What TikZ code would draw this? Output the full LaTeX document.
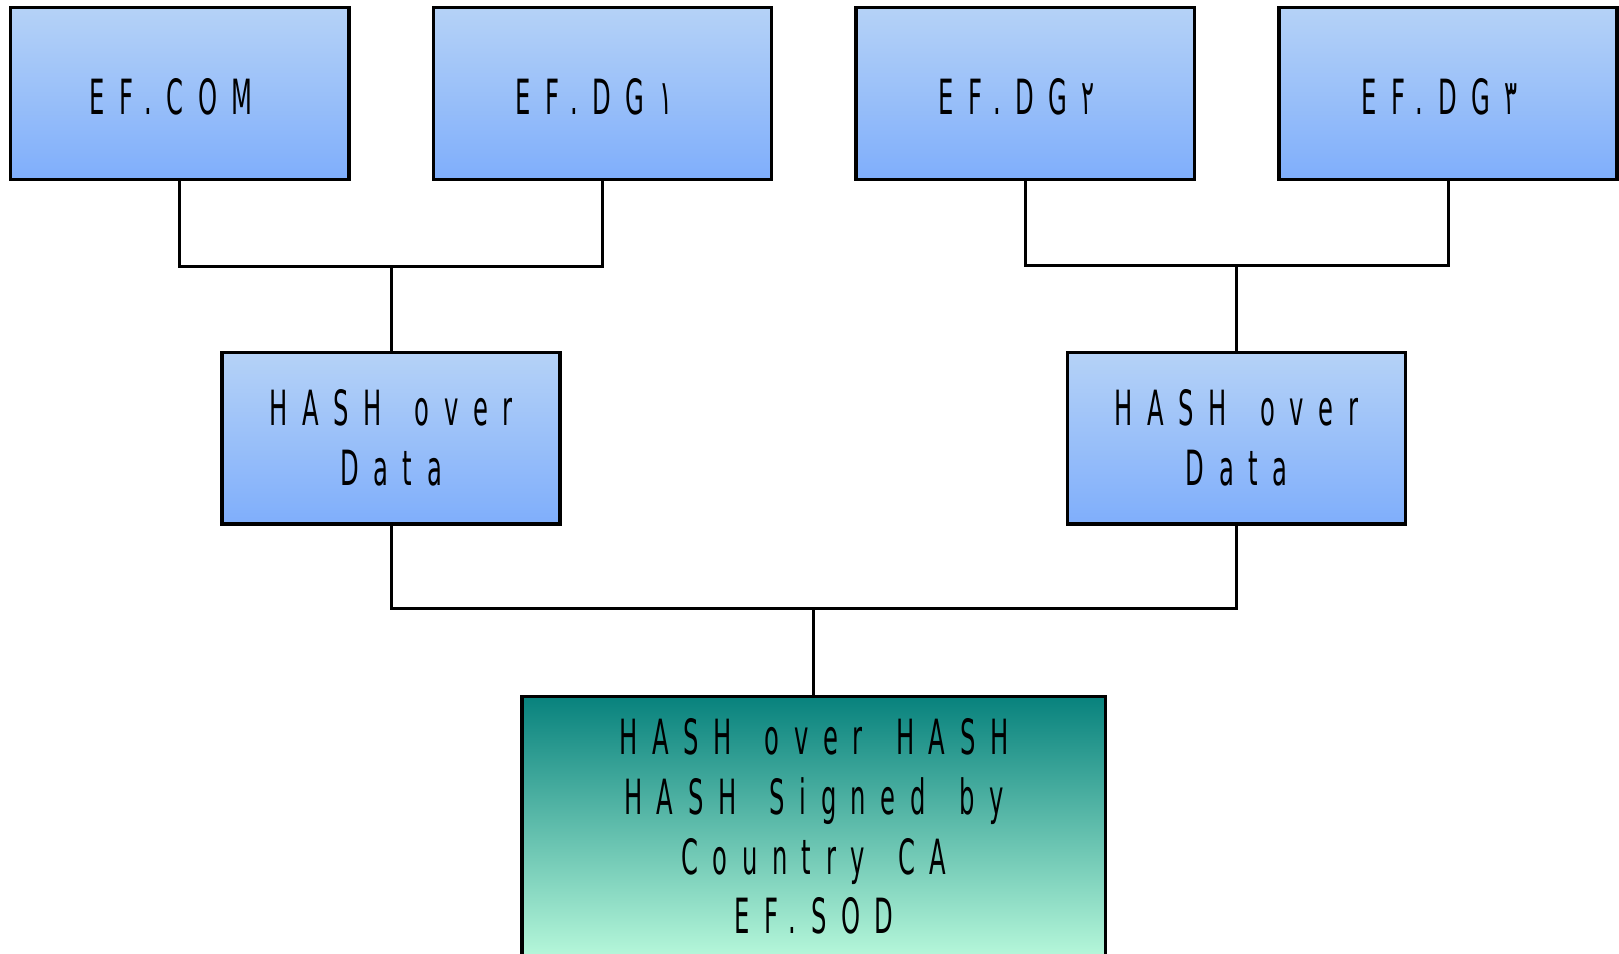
\documentclass[tikz,border=0pt]{standalone}
\usepackage{fontspec}
\setmainfont{DejaVu Sans}[FakeStretch=0.5, LetterSpace=30, WordSpace=1.5]
\usepackage{tikz}
\usetikzlibrary{positioning, calc}

\definecolor{blueTop}{RGB}{181,210,247}
\definecolor{blueBot}{RGB}{127,174,251}
\definecolor{tealTop}{RGB}{8,130,125}
\definecolor{tealBot}{RGB}{182,247,218}

\begin{document}
\begin{tikzpicture}[x=0.01cm, y=-0.01cm,
    box/.style={draw, line width=1pt, top color=blueTop, bottom color=blueBot,
        minimum width=3.38cm, minimum height=1.715cm, inner sep=0pt,
        align=center, font=\fontsize{13.8}{17}\selectfont},
    dgbox/.style={box, text height=12pt, text depth=0pt,
        execute at end node=\hspace*{0.17cm}},
    sodbox/.style={box, top color=tealTop, bottom color=tealBot,
        minimum width=5.83cm, minimum height=2.6cm},
    link/.style={line width=0.85pt}]
    \useasboundingbox (0,0) rectangle (1619,953);

    % data groups
    \node[dgbox] (com) at (179.7,93.5) {EF.COM};
    \node[dgbox, right=0.81cm of com] (dg1) {EF.DG١};
    \node[dgbox, right=0.81cm of dg1] (dg2) {EF.DG٢};
    \node[dgbox, right=0.81cm of dg2] (dg3) {EF.DG٣};

    % junctions
    \coordinate (jA) at ($(com.south)!0.5!(dg1.south) + (0,85.5)$);
    \coordinate (jB) at ($(dg2.south)!0.5!(dg3.south) + (0,84)$);

    % hashes
    \node[box, below=0.84cm of jA] (hashA) {HASH over\\Data};
    \node[box, below=0.84cm of jB |- jA] (hashB) {HASH over\\Data};

    \coordinate (jC) at ($(hashA.south)!0.5!(hashB.south) + (0,83)$);
    \node[sodbox, below=0.86cm of jC] (sod) {HASH over HASH\\HASH Signed by\\Country CA\\EF.SOD};

    \draw[link] (com.south) |- (jA -| dg1.south) -- (dg1.south);
    \draw[link] (jA) -- (hashA.north);
    \draw[link] (dg2.south) |- (jB -| dg3.south) -- (dg3.south);
    \draw[link] (jB) -- (hashB.north);
    \draw[link] (hashA.south) |- (jC -| hashB.south) -- (hashB.south);
    \draw[link] (jC) -- (sod.north);
\end{tikzpicture}
\end{document}
